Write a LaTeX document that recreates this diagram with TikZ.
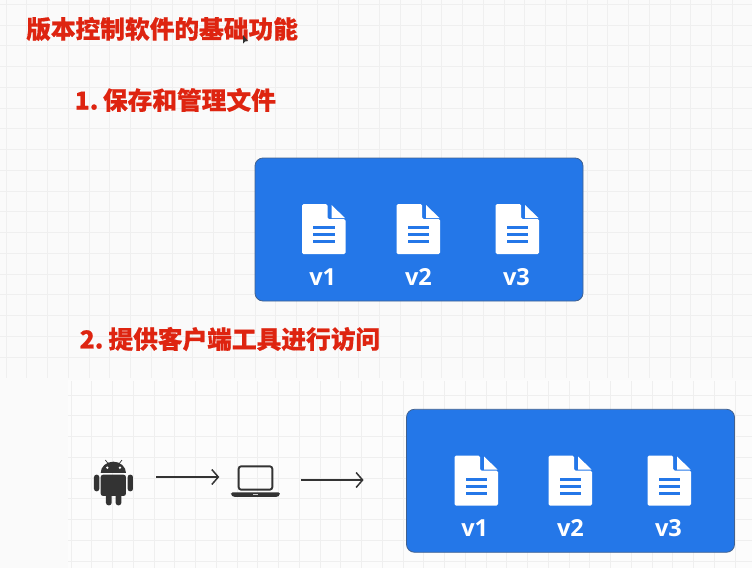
\documentclass[tikz,border=0pt]{standalone}
\usepackage{fontspec}
\usetikzlibrary{arrows.meta}
\newfontfamily\cjkbold[BoldFeatures={FakeBold=0.6}]{Noto Sans CJK SC}
\setsansfont{Open Sans}
\definecolor{pagebg}{HTML}{FAFAFA}
\definecolor{lowerbg}{HTML}{FCFCFC}
\definecolor{gridc}{HTML}{EFEFEF}
\definecolor{boxblue}{HTML}{2477E8}
\definecolor{boxedge}{HTML}{41618F}
\definecolor{headred}{HTML}{DE2410}
\definecolor{ink}{HTML}{333333}
\tikzset{
  heading/.style={text=headred,anchor=west,inner sep=0pt,font=\cjkbold\bfseries\fontsize{24.7}{28}\selectfont},
  storebox/.style={draw=boxedge,line width=0.8pt,fill=boxblue,rounded corners=8pt,minimum width=328pt,minimum height=143pt,inner sep=0pt},
  verlabel/.style={text=white,inner sep=0pt,font=\sffamily\bfseries\fontsize{23.5}{26}\selectfont},
  flow/.style={draw=ink,line width=1.5pt,-{Straight Barb[length=6.5pt,width=15pt,line width=1.5pt]}},
  iconslot/.style={minimum width=0pt,minimum height=0pt,inner sep=0pt},
  docicon/.pic={
    \fill[white,rounded corners=1.5pt] (0,0) -- (25.5,0) -- (25.5,15) -- (43.5,15) -- (43.5,50) -- (0,50) -- cycle;
    \fill[white] (29.5,1) -- (43,14) -- (29.5,14) -- cycle;
    \fill[boxblue] (11,22) rectangle (32.5,25.2);
    \fill[boxblue] (11,29) rectangle (32.5,32.2);
    \fill[boxblue] (11,36) rectangle (32.5,39.2);
  }
}
\begin{document}
\begin{tikzpicture}[x=1pt,y=-1pt]
\useasboundingbox (0,0) rectangle (752,568);
\fill[pagebg] (0,0) rectangle (752,568);
% upper grid
\begin{scope}[draw=gridc,line width=1pt]
\foreach \k in {0,...,35} {\draw (6+20.75*\k,0) -- (6+20.75*\k,378);}
\foreach \k in {0,...,17} {\draw (0,4.4+20.75*\k) -- (752,4.4+20.75*\k);}
\end{scope}
% lower canvas
\fill[lowerbg] (68,380) rectangle (752,568);
\begin{scope}[draw=gridc,line width=1pt]
\foreach \k in {0,...,32} {\draw (71+20.75*\k,381) -- (71+20.75*\k,568);}
\foreach \k in {0,...,8} {\draw (68,395+20.75*\k) -- (752,395+20.75*\k);}
\end{scope}
% headings
\node[heading] (title) at (26,29) {版本控制软件的基础功能};
\node[heading] (item1) at (74.5,100) {1.\kern-3pt{} 保存和管理文件};
\node[heading] (item2) at (79.5,339) {2.\kern-2.5pt{} 提供客户端工具进行访问};
% cursor
\fill[ink] (243,35) -- (243,43.5) -- (245,41.5) -- (248,41) -- cycle;
% upper box
\node[storebox] (boxa) at (419,229.5) {};
\pic at (302,204) {docicon};
\pic at (396.5,204) {docicon};
\pic at (495.5,204) {docicon};
\node[verlabel] (a1) at (322.7,277) {v1};
\node[verlabel] (a2) at (418.5,277) {v2};
\node[verlabel] (a3) at (516.5,277) {v3};
% lower box
\node[storebox] (boxb) at (570.5,480.75) {};
\pic at (454.5,455.5) {docicon};
\pic at (548.5,455.5) {docicon};
\pic at (647.5,455.5) {docicon};
\node[verlabel] (b1) at (474.7,528) {v1};
\node[verlabel] (b2) at (570.5,528) {v2};
\node[verlabel] (b3) at (668.5,528) {v3};
% android
\node[iconslot,minimum width=39pt,minimum height=47pt] (android) at (113,481.5) {};
\begin{scope}[shift={(60,380)},x=0.3333pt,y=-0.3333pt]
\fill[ink] (122,279) arc[start angle=180,end angle=360,x radius=38,y radius=34] -- cycle;
\fill[ink,rounded corners=2.5pt] (122,284) -- (198,284) -- (198,348) -- (122,348) -- cycle;
\fill[ink,rounded corners=2.5pt] (102,284) rectangle (118,334);
\fill[ink,rounded corners=2.5pt] (203,284) rectangle (219,334);
\fill[ink,rounded corners=2.5pt] (138,340) rectangle (155,376);
\fill[ink,rounded corners=2.5pt] (167,340) rectangle (184,376);
\draw[ink,line width=0.7pt] (136,240) -- (146,253);
\draw[ink,line width=0.7pt] (186,240) -- (176,253);
\fill[white] (142,263) circle[radius=4];
\fill[white] (180,263) circle[radius=4];
\end{scope}
% laptop
\node[iconslot,minimum width=49pt,minimum height=32pt] (laptop) at (255.5,480) {};
\begin{scope}[shift={(60,380)},x=0.3333pt,y=-0.3333pt]
\draw[ink,line width=1.9pt,rounded corners=2.5pt] (536,259) rectangle (637,329);
\fill[ink,rounded corners=1.5pt] (513,337) -- (660,337) -- (660,345) -- (652,351) -- (521,351) -- (513,345) -- cycle;
\fill[white!75!ink] (578,342) rectangle (594,344.5);
\end{scope}
% connectors
\draw[flow,shorten <=23.5pt,shorten >=11.5pt] ([yshift=4.5pt]android.east) -- ([yshift=3pt]laptop.west);
\draw[flow,shorten <=21pt,shorten >=42.5pt] (laptop.east) -- (laptop.east -| boxb.west);
\end{tikzpicture}
\end{document}
